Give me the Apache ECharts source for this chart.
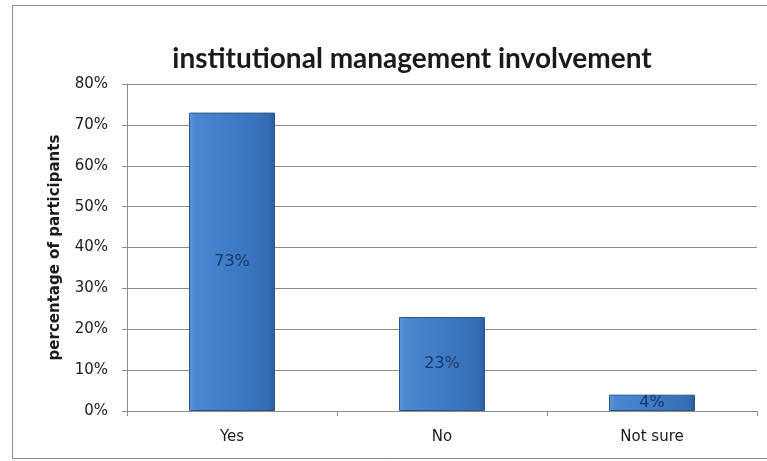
<!DOCTYPE html>
<html>
<head>
<meta charset="utf-8">
<style>
  html, body { margin: 0; padding: 0; background: #ffffff; }
  #chart { width: 767px; height: 461px; }
</style>
<script src="https://cdn.jsdelivr.net/npm/echarts@6/dist/echarts.min.js"></script>
</head>
<body>
<div id="chart"></div>
<script>
// Survey answers and their share of participants (percent)
const categories = ['Yes', 'No', 'Not sure'];
const shares = [73, 23, 4];
const yTicks = { min: 0, max: 80, step: 10 };

const chart = echarts.init(document.getElementById('chart'), null, { renderer: 'canvas' });

// Bevelled look: lighter left edge, darker right edge
const barFill = new echarts.graphic.LinearGradient(0, 0, 1, 0, [
  { offset: 0, color: '#5f98da' },
  { offset: 0.07, color: '#4c87d0' },
  { offset: 0.5, color: '#3e7bc7' },
  { offset: 0.93, color: '#346db4' },
  { offset: 1, color: '#2a5a98' }
]);

chart.setOption({
  animation: false,
  backgroundColor: '#ffffff',
  title: {
    text: 'institutional management involvement',
    left: 407,
    textAlign: 'center',
    top: 40,
    textStyle: {
      fontFamily: 'Lato',
      fontWeight: 'bold',
      fontSize: 28,
      color: '#1a1a1a'
    }
  },
  graphic: [{
    type: 'rect',
    shape: { x: 12.5, y: 5.5, width: 770, height: 453 },
    style: { fill: 'none', stroke: '#8a8a8a', lineWidth: 1 },
    silent: true
  }],
  grid: { left: 127, right: 10, top: 84, bottom: 50, containLabel: false },
  xAxis: {
    type: 'category',
    data: categories,
    axisLine: { show: true, lineStyle: { color: '#8c8c8c', width: 1 } },
    axisTick: { show: true, length: 5, inside: false, alignWithLabel: false, lineStyle: { color: '#8c8c8c' } },
    axisLabel: {
      margin: 19,
      fontFamily: 'DejaVu Sans',
      fontSize: 15,
      color: '#1a1a1a'
    }
  },
  yAxis: {
    type: 'value',
    min: yTicks.min,
    max: yTicks.max,
    interval: yTicks.step,
    name: 'percentage of participants',
    nameLocation: 'middle',
    nameRotate: 90,
    nameGap: 64,
    nameTextStyle: {
      fontFamily: 'DejaVu Sans',
      fontWeight: 'bold',
      fontSize: 15,
      color: '#1a1a1a'
    },
    axisLine: { show: true, lineStyle: { color: '#8c8c8c', width: 1 } },
    axisTick: { show: true, length: 5, inside: false, lineStyle: { color: '#8c8c8c' } },
    splitLine: { show: true, lineStyle: { color: '#8c8c8c', width: 1 } },
    axisLabel: {
      margin: 19,
      formatter: '{value}%',
      fontFamily: 'DejaVu Sans',
      fontSize: 15,
      color: '#1a1a1a'
    }
  },
  series: [{
    type: 'bar',
    data: shares,
    barWidth: 86,
    itemStyle: {
      color: barFill,
      borderColor: '#2b5587',
      borderWidth: 1
    },
    label: {
      show: true,
      position: 'inside',
      formatter: '{c}%',
      fontFamily: 'DejaVu Sans',
      fontSize: 16,
      color: '#1b355e'
    }
  }]
});
</script>
</body>
</html>
